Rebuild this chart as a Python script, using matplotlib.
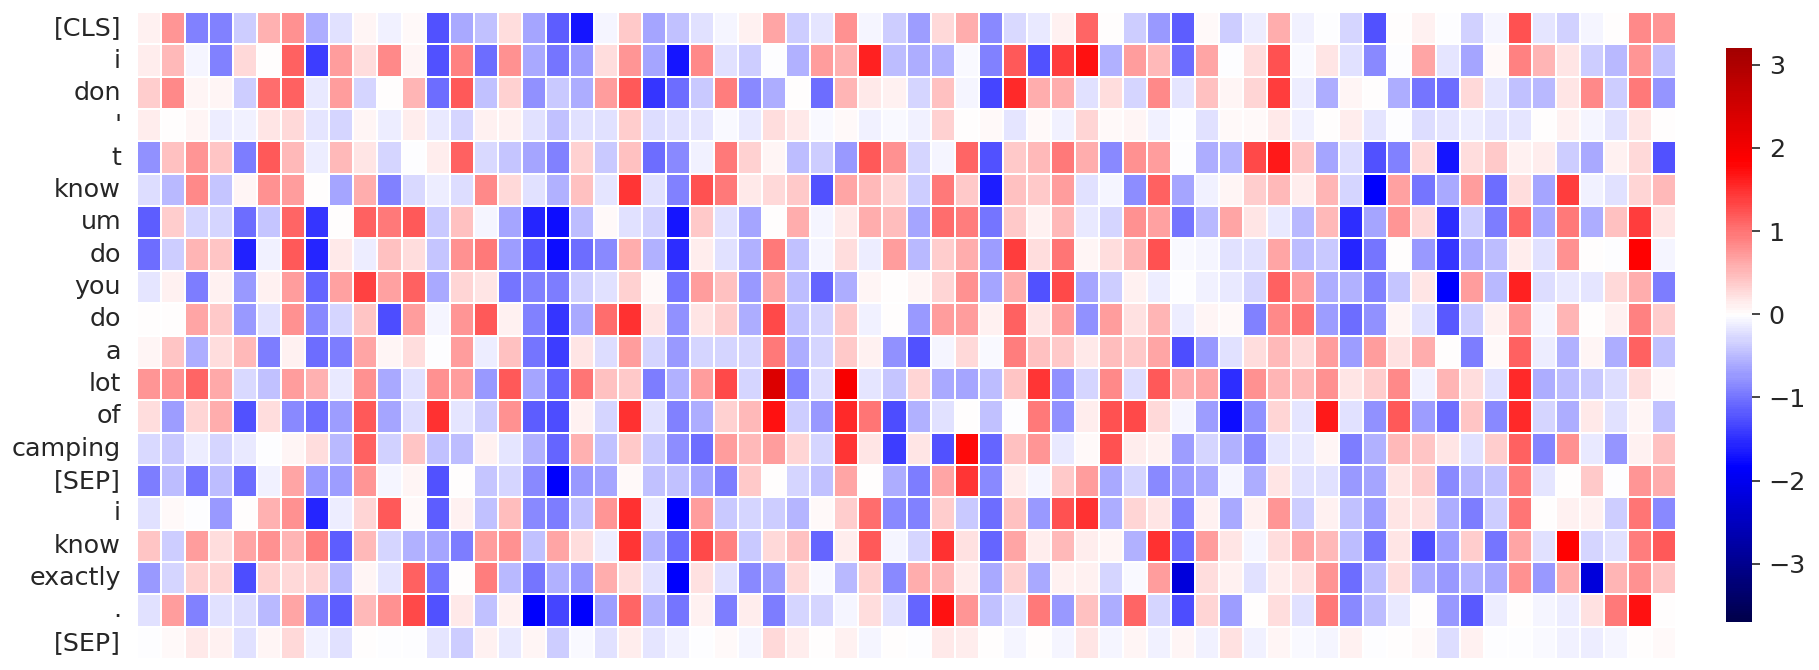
import numpy as np
import matplotlib
matplotlib.use('Agg')
import matplotlib.pyplot as plt
import seaborn as sns

tokens = ['[CLS]', 'i', 'don', "'", 't', 'know', 'um', 'do', 'you', 'do', 'a', 'lot',
          'of', 'camping', '[SEP]', 'i', 'know', 'exactly', '.', '[SEP]']

# values, one list per token
row_cls = [.08, .75, -.92, -.92, -.37, .57, .8, -.6, -.22, .07, -.1, .03, -1.25, -.62, -.45, .25, -.65, -1.15, -1.7, -.08,
           .37, -.65, -.45, -.2, -.08, .12, .65, -.37, -.17, .8, -.08, -.37, -.7, .27, .6, -.85, -.27, -.15, .08, 1.1, 0, -.37, -.72, -1.15, .02,
           -.37, -.12, .6, -.1, -.03, -.33, -1.25, 0, .1, -.03, -.35, -.07, 1.25, -.18, -.35, -.07, 0, .85, .75]
row_i1 = [.13, .5, -.08, -.9, .28, 0, 1.15, -1.4, .7, .25, .85, .07, -1.25, .9, -1.05, .8, -.62, -1.0, -.7, .25,
          .75, -.65, -1.7, .85, -.2, -.37, -.03, -.55, .7, .58, 1.6, -.47, -.58, -.55, -.04, -.92, 1.2, -1.25, 1.4, 1.7, -.55, .7, .5, -1.05, .65,
          -.03, .25, 1.25, -.05, .2, -.2, -.85, -.03, .65, -.17, -.65, .03, .9, .55, .2, -.38, -.5, .75, -.45]
row_don = [.35, .85, .05, .05, -.37, 1.05, 1.15, -.15, .7, -.28, 0, .55, -1.05, 1.2, -.45, .33, -.8, -.4, -.58, .7,
           1.2, -1.45, -1.05, -.4, .93, -.85, -.6, 0, -1.05, .55, .17, .1, -.28, .45, -.07, -1.35, 1.55, .6, .6, -.2, .25, -.28, .85, -.17, .45,
           .06, .3, 1.4, -.12, -.6, .06, 0, -.6, -1.0, -1.05, .28, -.18, -.45, -.5, .2, .85, -.38, .95, -.78]
row_apos = [.15, 0, .06, -.13, -.1, .2, .28, -.17, -.3, .06, -.12, .13, -.15, -.33, .12, .1, -.2, -.45, -.2, -.2,
            .35, -.25, -.22, -.17, -.04, -.16, .25, .16, -.04, .03, -.1, -.04, -.09, .32, 0, .02, -.18, .03, -.09, .3, .04, .06, -.09, -.03, -.2,
            .04, .03, .17, -.1, 0, .13, -.18, -.03, -.25, -.19, -.12, -.17, -.18, 0, .08, -.07, -.2, .2, 0]
row_t = [-.8, .45, .75, .42, -.95, 1.2, .48, -.13, .5, .2, -.3, -.03, .13, 1.15, -.27, -.42, -.65, -.9, .33, -.4,
         .45, -1.05, -.85, -.1, .95, .33, .06, -.47, -.37, -.72, 1.2, .8, -.32, -.07, 1.1, -1.25, .38, .5, .95, .6, -.85, .8, .72, -.03, -.6,
         -.52, 1.3, 1.65, .42, -.65, -.25, -1.25, -.9, .28, -1.7, .25, .38, .1, .13, -.38, -.62, .08, .28, -1.25]
row_know1 = [-.25, -.5, .85, -.42, .07, .8, .7, 0, -.65, .6, -.9, -.27, -.12, -.23, .85, .28, -.2, -.55, .45, -.18,
             1.45, -.2, -.9, 1.25, .95, .17, .28, .37, -1.25, .65, .5, .3, -.37, .95, .37, -1.65, .43, .37, .7, -.22, -.08, -.82, 1.15, -.65, -.1,
             .06, .35, .5, .13, .55, -.33, -1.85, .68, -1.0, -.62, .7, -1.05, .25, -.65, 1.4, -.1, -.2, .3, .5]
row_um = [-1.15, .35, -.3, -.28, -1.05, -.43, 1.1, -1.45, 0, 1.15, .95, 1.2, -.4, .45, -.08, -.63, -1.55, -1.75, -.47, .03,
          -.2, -.35, -1.7, .38, -.2, -.65, 0, .6, -.08, .17, .6, .47, -.65, 1.05, .92, -1.0, .38, .08, .48, -.15, -.33, .8, .68, -1.0, -.5,
          .65, .2, -.15, -.5, .48, -1.5, -.65, .75, .28, -1.5, -.37, -.95, 1.1, -.62, .95, -.6, .43, 1.4, .2]
row_do1 = [-1.05, -.38, .55, .42, -1.6, -.1, 1.2, -1.55, .17, -.13, .45, .25, -.42, .78, .95, -.7, -1.2, -1.75, -1.05, -.85,
           .6, -.55, -1.5, .15, -.22, -.55, .95, -.45, -.08, .25, -.13, .7, -.5, .35, .6, -.7, 1.4, .25, 1.0, .05, .25, .55, 1.25, -.04, -.08,
           -.2, -.2, .65, -.48, -.4, -1.55, -1.0, 0, -.75, -1.45, -.62, -.48, .13, -.22, .8, .01, -.02, 1.85, -.07]
row_you = [-.17, .12, -.95, .12, -.75, .08, .7, -1.1, .68, 1.35, .68, 1.15, -.62, .3, .2, -1.0, -.9, -.95, -.35, -.2,
           .33, .02, -1.0, .7, .45, -.75, .65, -.47, -1.1, -.6, .06, 0, .07, .3, .8, -.65, .6, -1.25, 1.3, -.65, -.37, .1, -.12, -.01, -.1,
           -.15, -.33, 1.15, .7, -.6, -.55, -.9, -.42, .2, -1.85, .7, -.5, 1.6, -.23, -.15, -.17, .28, .6, -.95]
row_do2 = [.01, 0, .65, .37, -.72, -.2, .8, -.85, -.28, .42, -1.3, .72, -.08, .75, 1.2, .09, -.9, -1.45, -.62, 1.05,
           1.5, .2, -.8, .2, .35, -.6, 1.3, -.45, -.3, .38, -.1, 0, -.72, .72, .72, .1, 1.15, .2, .7, -.8, .72, .22, .55, -.13, .05,
           .02, -.9, .85, 1.0, -.7, -1.05, -.8, .07, -.2, -1.2, -.38, .1, .75, -.07, .55, 0, .12, .9, .35]
row_a = [.07, .4, -.6, .25, .5, -.95, .12, -1.05, -.95, .65, .07, .25, -.03, .72, -.12, .45, -1.0, -1.4, .2, -.25,
         .72, -.33, -.72, -.28, -.3, -.33, .95, -.6, -.3, .37, .08, -.8, -1.25, -.08, .27, -.04, .92, .45, .38, .17, .47, .38, .65, -1.3, -.75,
         -.22, .25, .5, .27, .72, -.7, .7, .22, .6, 0, -.95, .03, 1.15, -.13, -.55, .07, -.6, 1.15, -.45]
row_lot = [.75, .8, 1.1, .62, -.27, -.45, .72, .57, -.15, .8, -.62, -.2, .78, .72, -.75, 1.2, -.65, -1.1, 1.0, .45,
           .37, -.95, -.55, .7, 1.3, -.3, 2.35, -.9, -.23, 1.95, -.17, -.42, .3, -.62, -.65, -.48, .42, 1.45, -.8, -.3, .85, -.25, 1.2, .6, .65,
           -1.5, .8, .55, .5, .78, .2, .35, .85, -.1, .55, .25, -.2, 1.55, -.58, -.47, -.4, -.25, .25, .03]
row_of = [.25, -.7, .3, .6, -1.25, .25, -.85, -1.05, -.7, 1.2, -.65, -.25, 1.5, -.17, -.37, .8, -1.15, -1.3, .12, -.3,
          1.5, -.22, -.9, -.6, .33, .5, 1.7, -.37, -.75, 1.55, 1.0, -1.3, -.55, -.22, 0, -.45, -.03, .95, -.8, .15, 1.25, 1.3, .28, -.08, -.7,
          -1.75, -.8, .3, -.18, 1.65, -.2, -.8, 1.2, -.7, -1.05, .42, -.85, 1.55, -.3, -.6, .17, -.2, .05, -.45]
row_camping = [-.27, -.4, -.12, -.3, -.15, -.03, .06, .25, -.5, 1.15, -.35, .42, -.45, -.48, .08, -.17, -.55, -1.1, .58, -.45,
               .37, -.4, -.82, -1.05, .72, .5, .72, .3, -.28, 1.45, .2, -1.4, .2, -1.25, 1.75, -1.1, .45, .75, -.15, .02, 1.25, .15, .1, -.7, -.32,
               -.55, -.85, -.18, -.15, .07, -.95, -.55, .48, .4, .2, -.2, .35, 1.15, -.88, .78, -.15, -.78, .08, .45]
row_sep1 = [-.95, -.47, -1.0, -.47, -1.05, -.1, .65, -.75, -.7, .75, -.07, .06, -1.25, 0, -.43, -.33, -.85, -1.85, -.72, -.65,
            .03, -.45, -.45, -.65, -.95, .37, 0, -.3, -.45, .65, 0, -.6, -.95, .65, 1.45, -.85, .13, -.08, .37, .72, -.62, -.3, -.85, -.7, -.62,
            -.08, -.6, .2, -.2, -.2, -.75, -.65, .2, .35, -.85, -.52, -.45, .92, -.17, 0, .37, -.03, .75, .6]
row_i2 = [-.2, .03, -.03, -.75, 0, .58, .8, -1.55, -.12, .3, 1.2, .02, -1.15, .1, -.45, .47, -.85, -.95, -.45, .75,
          1.5, -.15, -1.85, .7, -.4, -.3, -.37, -.52, .03, .35, 1.05, -.85, -.9, .35, -.4, -1.05, .45, -.72, 1.25, 1.5, -.6, .3, .2, -.9, .1,
          -.62, .09, .75, -.38, .08, -.45, -.7, .2, .22, -.6, -.95, -.38, 1.0, 0, .08, .09, -.38, 1.0, -.85]
row_know2 = [.42, -.37, .7, .25, .65, .8, .52, .92, -1.15, .5, -.3, -.57, -.65, -.95, .7, .8, -.45, .65, .25, -.12,
             1.45, -.55, -1.05, 1.3, .9, -.4, .27, .45, -1.1, .15, 1.2, -.08, -.3, 1.5, .22, -1.1, .65, .14, .5, .15, .06, -.57, 1.5, -1.05, .7,
             .2, -.08, .25, .65, .5, -.48, -1.0, .2, -1.3, -.7, .35, -1.0, .65, -.2, 1.85, -.28, -.2, .92, 1.2]
row_exactly = [-.75, -.3, .33, .3, -1.3, .32, .28, .3, -.5, .06, -.17, 1.15, -1.0, 0, .92, -.5, -1.0, -.55, -.75, .6,
               .25, -.2, -1.85, .23, -.2, -.85, -.7, .28, -.04, -.5, .33, -.85, .6, .55, .13, -.62, .33, -.62, .1, .08, -.3, -.04, .7, -2.2, .25,
               .1, -.2, .15, .22, .75, -1.05, -.47, .25, -.6, -.72, -.52, -.62, .8, -.73, .6, -2.2, .55, .8, .42]
row_dot = [-.2, .72, -.9, -.2, -.25, -.5, .65, -.95, -1.15, .5, .8, 1.3, -1.25, .17, -.45, .12, -1.85, -1.35, -1.85, -.7,
           1.1, -.57, -1.0, .1, -.95, .15, -.95, -.3, -.3, -.08, .25, -.2, -1.1, 1.7, .75, -.45, -.22, .95, -.75, .45, -.58, 1.1, -.33, -1.3, .3,
           -.7, 0, .25, -.22, .95, -.85, -.47, -.15, 0, -.75, -1.2, -.12, 0, -.08, -.13, .22, .95, 1.7, 0]
row_sep2 = [-.02, .03, .17, .1, -.2, .06, .28, -.1, -.22, 0, -.03, -.03, -.17, -.37, .12, -.15, .06, -.38, -.04, -.22,
            .15, -.18, -.1, -.03, .03, -.07, .28, .15, 0, .12, -.08, 0, -.01, .16, .13, 0, -.07, 0, -.07, .2, -.07, .07, -.1, .05, -.1,
            .22, -.1, .06, -.04, -.07, .09, -.03, 0, .04, -.25, .09, -.01, -.01, -.04, -.1, -.12, -.08, 0, .02]

values = np.array([row_cls, row_i1, row_don, row_apos, row_t, row_know1, row_um, row_do1, row_you, row_do2,
                   row_a, row_lot, row_of, row_camping, row_sep1, row_i2, row_know2, row_exactly, row_dot, row_sep2])

sns.set_theme(style='white')
plt.rcParams['font.family'] = ['DejaVu Sans']

W, H = 1819, 670
fig = plt.figure(figsize=(W / 100, H / 100), dpi=100)
ax = fig.add_axes([137 / W, 1 - 659 / H, (1676 - 137) / W, (659 - 12) / H])
cax = fig.add_axes([1726 / W, 1 - 622 / H, 26 / W, (622 - 48) / H])

sns.heatmap(values, ax=ax, cbar_ax=cax, cmap='seismic', center=0, vmin=-3.7, vmax=3.2,
            linewidths=1.3, linecolor='white', xticklabels=False, yticklabels=tokens)

ax.tick_params(axis='y', length=0, labelsize=18.3, rotation=0, pad=11.5, labelcolor='#262626')
cax.set_yticks([-3, -2, -1, 0, 1, 2, 3])
cax.tick_params(axis='y', length=6, width=1.2, labelsize=18.3, color='#262626', labelcolor='#262626', pad=6)
cax.collections[0].set_edgecolor('face')

plt.savefig('out.png', dpi=100)
